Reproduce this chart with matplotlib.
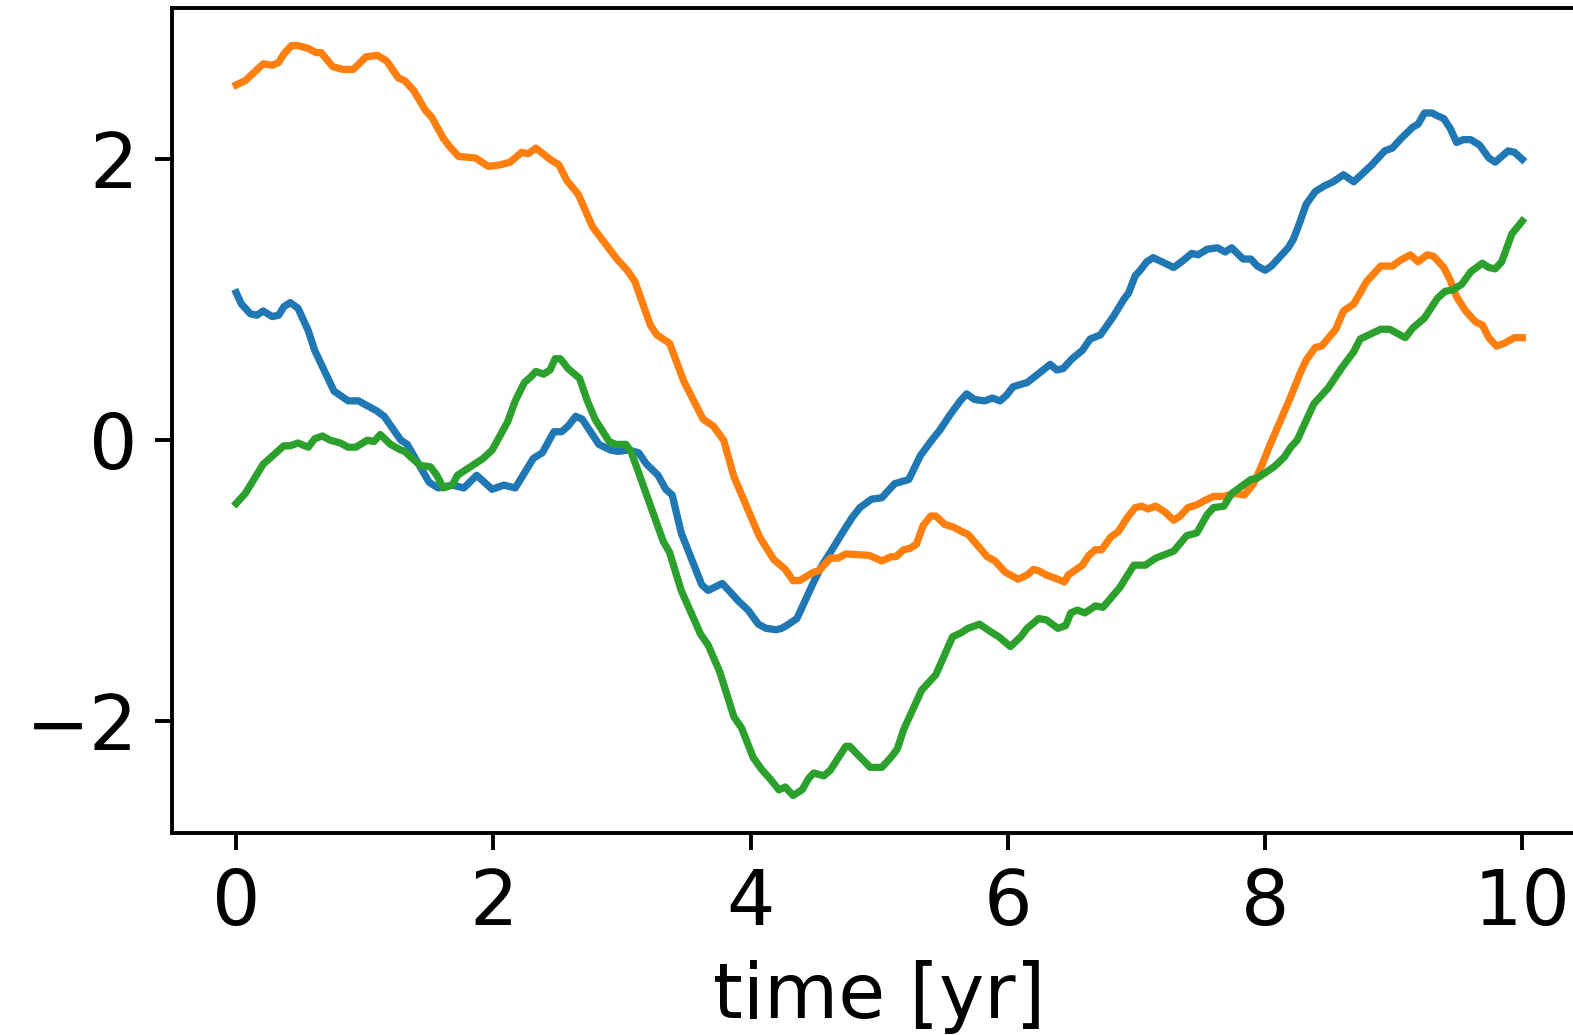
import matplotlib
matplotlib.use("Agg")
import matplotlib.pyplot as plt

# values (time in years, value)
blue_t = [0, 0.04, 0.11, 0.16, 0.21, 0.28, 0.33, 0.37, 0.42, 0.48,
          0.56, 0.61, 0.76, 0.87, 0.95, 1.09, 1.15, 1.28, 1.33, 1.50,
          1.57, 1.68, 1.77, 1.87, 1.99, 2.08,
          2.17, 2.31, 2.38, 2.47, 2.53, 2.58, 2.64, 2.69, 2.82, 2.91,
          2.97, 3.05, 3.13, 3.19, 3.28, 3.34, 3.39, 3.46, 3.62, 3.67,
          3.78, 3.91, 3.98, 4.06, 4.12, 4.20, 4.24,
          4.28, 4.36, 4.41, 4.48, 4.55, 4.66, 4.72, 4.79, 4.85, 4.94,
          5.02, 5.12, 5.23, 5.32, 5.40, 5.47, 5.55, 5.63, 5.68, 5.74,
          5.82, 5.88, 5.94, 5.99, 6.04, 6.11, 6.15, 6.22, 6.33, 6.38,
          6.43,
          6.50, 6.58, 6.64, 6.72, 6.82, 6.90, 6.94, 6.99, 7.03, 7.08,
          7.13, 7.29, 7.35, 7.43, 7.48, 7.55, 7.63, 7.69, 7.74, 7.83,
          7.89, 7.94, 8.00, 8.05, 8.18, 8.22, 8.27, 8.32, 8.39, 8.46,
          8.53,
          8.61, 8.69, 8.83, 8.93, 8.99, 9.06, 9.15, 9.19, 9.24, 9.30,
          9.34, 9.39, 9.44, 9.49, 9.54, 9.60, 9.67, 9.74, 9.79, 9.89,
          9.94, 10.0]
blue_y = [1.05, 0.97, 0.90, 0.89, 0.92, 0.88, 0.89, 0.95, 0.98, 0.94,
          0.78, 0.64, 0.35, 0.28, 0.28, 0.21, 0.17, 0.00, -0.03, -0.30,
          -0.34, -0.32, -0.34, -0.25, -0.35, -0.32,
          -0.34, -0.13, -0.09, 0.06, 0.06, 0.10, 0.17, 0.15, -0.03, -0.07,
          -0.08, -0.07, -0.09, -0.17, -0.25, -0.35, -0.39, -0.66, -1.03, -1.07,
          -1.02, -1.15, -1.21, -1.31, -1.34, -1.35, -1.34,
          -1.32, -1.27, -1.17, -1.03, -0.90, -0.74, -0.65, -0.55, -0.48, -0.42,
          -0.41, -0.31, -0.28, -0.11, -0.01, 0.07, 0.18, 0.28, 0.33, 0.29,
          0.28, 0.30, 0.28, 0.32, 0.38, 0.40, 0.41, 0.46, 0.54, 0.50,
          0.51,
          0.58, 0.64, 0.72, 0.75, 0.88, 1.00, 1.05, 1.17, 1.21, 1.27,
          1.30, 1.23, 1.27, 1.33, 1.32, 1.36, 1.37, 1.34, 1.37, 1.29,
          1.29, 1.24, 1.21, 1.24, 1.37, 1.43, 1.55, 1.68, 1.77, 1.81,
          1.84,
          1.89, 1.84, 1.96, 2.06, 2.08, 2.15, 2.23, 2.25, 2.33, 2.33,
          2.31, 2.29, 2.22, 2.12, 2.14, 2.14, 2.10, 2.01, 1.98, 2.06,
          2.05, 2.00]

orange_t = [0, 0.07, 0.21, 0.28, 0.33, 0.37, 0.43, 0.48, 0.56, 0.62,
            0.66, 0.75, 0.83, 0.91, 1.01, 1.10, 1.17, 1.26, 1.31, 1.38,
            1.47, 1.52, 1.61, 1.66, 1.73, 1.86, 1.96,
            2.05, 2.13, 2.22, 2.27, 2.33, 2.44, 2.51, 2.57, 2.66, 2.77,
            2.96, 3.04, 3.10, 3.22, 3.27, 3.37, 3.48, 3.63, 3.71, 3.79,
            3.87, 4.07, 4.18, 4.27,
            4.33, 4.38, 4.49, 4.53, 4.62, 4.68, 4.74, 4.92, 5.02, 5.09,
            5.13, 5.19, 5.24, 5.29, 5.34, 5.40, 5.44, 5.51, 5.58, 5.64,
            5.69, 5.84, 5.90, 5.98, 6.08, 6.15, 6.20, 6.24, 6.30, 6.36,
            6.44,
            6.47, 6.58, 6.63, 6.68, 6.73, 6.80, 6.86, 6.93, 6.99, 7.04,
            7.09, 7.15, 7.22, 7.29, 7.34, 7.40, 7.47, 7.53, 7.60, 7.68,
            7.77, 7.84, 7.91, 7.97, 8.04, 8.12, 8.20,
            8.27, 8.32, 8.39, 8.44, 8.55, 8.61, 8.69, 8.79, 8.90, 8.99,
            9.05, 9.13, 9.19, 9.26, 9.31, 9.39, 9.44, 9.49, 9.56, 9.64,
            9.69, 9.74, 9.80, 9.86, 9.94, 10.0]
orange_y = [2.53, 2.56, 2.68, 2.67, 2.69, 2.75, 2.81, 2.81, 2.79, 2.76,
            2.76, 2.66, 2.64, 2.64, 2.73, 2.74, 2.70, 2.58, 2.56, 2.49,
            2.35, 2.30, 2.15, 2.09, 2.02, 2.01, 1.95,
            1.96, 1.98, 2.05, 2.04, 2.08, 2.00, 1.96, 1.85, 1.75, 1.52,
            1.29, 1.21, 1.13, 0.82, 0.75, 0.69, 0.42, 0.15, 0.10, 0.00,
            -0.26, -0.69, -0.85, -0.92,
            -1.00, -1.00, -0.94, -0.93, -0.84, -0.84, -0.81, -0.82, -0.86, -0.83,
            -0.83, -0.78, -0.77, -0.74, -0.61, -0.54, -0.54, -0.60, -0.62, -0.65,
            -0.67, -0.83, -0.86, -0.94, -0.99, -0.96, -0.92, -0.93, -0.96, -0.98,
            -1.01,
            -0.96, -0.89, -0.82, -0.78, -0.78, -0.69, -0.65, -0.55, -0.48, -0.47,
            -0.49, -0.47, -0.51, -0.57, -0.54, -0.48, -0.46, -0.43, -0.40, -0.40,
            -0.38, -0.39, -0.31, -0.19, -0.03, 0.14, 0.31,
            0.47, 0.57, 0.66, 0.67, 0.79, 0.92, 0.97, 1.13, 1.24, 1.24,
            1.28, 1.32, 1.27, 1.32, 1.31, 1.23, 1.14, 1.02, 0.92, 0.84,
            0.82, 0.73, 0.67, 0.69, 0.73, 0.73]

green_t = [0, 0.07, 0.21, 0.26, 0.37, 0.42, 0.48, 0.56, 0.61, 0.67,
           0.73, 0.81, 0.87, 0.93, 1.02, 1.07, 1.12, 1.20, 1.28, 1.31,
           1.43, 1.51, 1.56, 1.61, 1.68, 1.72, 1.82, 1.92, 1.99,
           2.05, 2.11, 2.17, 2.24, 2.29, 2.33, 2.39, 2.44, 2.48, 2.52,
           2.58, 2.67, 2.73, 2.79, 2.90, 2.95, 3.03, 3.07, 3.32, 3.37,
           3.46, 3.61, 3.67, 3.76, 3.87, 3.93, 4.02, 4.09, 4.15, 4.22,
           4.27,
           4.33, 4.40, 4.45, 4.49, 4.57, 4.62, 4.74, 4.77, 4.93, 5.02,
           5.09, 5.14, 5.19, 5.33, 5.44, 5.57, 5.64, 5.69, 5.78, 5.86,
           5.93, 6.02, 6.10, 6.15, 6.24, 6.30, 6.39, 6.45,
           6.49, 6.54, 6.60, 6.68, 6.74, 6.87, 6.98, 7.07, 7.15, 7.29,
           7.39, 7.47, 7.55, 7.60, 7.68, 7.74, 7.89, 7.94, 8.07, 8.15,
           8.20, 8.25,
           8.38, 8.49, 8.60, 8.69, 8.74, 8.83, 8.90, 8.97, 9.09, 9.15,
           9.24, 9.34, 9.40, 9.46, 9.53, 9.60, 9.69, 9.74, 9.79, 9.84,
           9.92, 10.0]
green_y = [-0.45, -0.38, -0.17, -0.13, -0.04, -0.04, -0.02, -0.05, 0.01, 0.03,
           0.00, -0.02, -0.05, -0.05, 0.00, -0.01, 0.04, -0.03, -0.07, -0.08,
           -0.18, -0.19, -0.25, -0.34, -0.32, -0.25, -0.19, -0.13, -0.07,
           0.03, 0.13, 0.28, 0.41, 0.45, 0.49, 0.47, 0.50, 0.58, 0.58,
           0.51, 0.44, 0.28, 0.15, -0.01, -0.03, -0.03, -0.08, -0.72, -0.80,
           -1.07, -1.38, -1.46, -1.65, -1.97, -2.05, -2.26, -2.35, -2.41, -2.49,
           -2.47,
           -2.53, -2.49, -2.41, -2.37, -2.39, -2.35, -2.18, -2.18, -2.33, -2.33,
           -2.26, -2.20, -2.06, -1.78, -1.67, -1.40, -1.37, -1.34, -1.31, -1.36,
           -1.40, -1.47, -1.40, -1.34, -1.27, -1.28, -1.34, -1.32,
           -1.23, -1.21, -1.23, -1.18, -1.19, -1.05, -0.89, -0.89, -0.84, -0.79,
           -0.68, -0.66, -0.53, -0.48, -0.47, -0.38, -0.28, -0.27, -0.19, -0.12,
           -0.05, 0.00,
           0.26, 0.37, 0.52, 0.63, 0.72, 0.76, 0.79, 0.79, 0.73, 0.80,
           0.87, 1.01, 1.06, 1.07, 1.11, 1.20, 1.26, 1.23, 1.22, 1.27,
           1.47, 1.56]

DPI = 350
plt.rcParams["font.size"] = 15.7

fig = plt.figure(figsize=(1573 / DPI, 1035 / DPI), dpi=DPI)
ax = fig.add_axes([0.1093, 0.1952, 0.8993, 0.797])

ax.plot(blue_t, blue_y, lw=1.5)
ax.plot(orange_t, orange_y, lw=1.5)
ax.plot(green_t, green_y, lw=1.5)

ax.set_xticks([0, 2, 4, 6, 8, 10])
ax.set_yticks([-2, 0, 2])
ax.set_xlabel("time [yr]")

fig.savefig("out.png", dpi=DPI)
